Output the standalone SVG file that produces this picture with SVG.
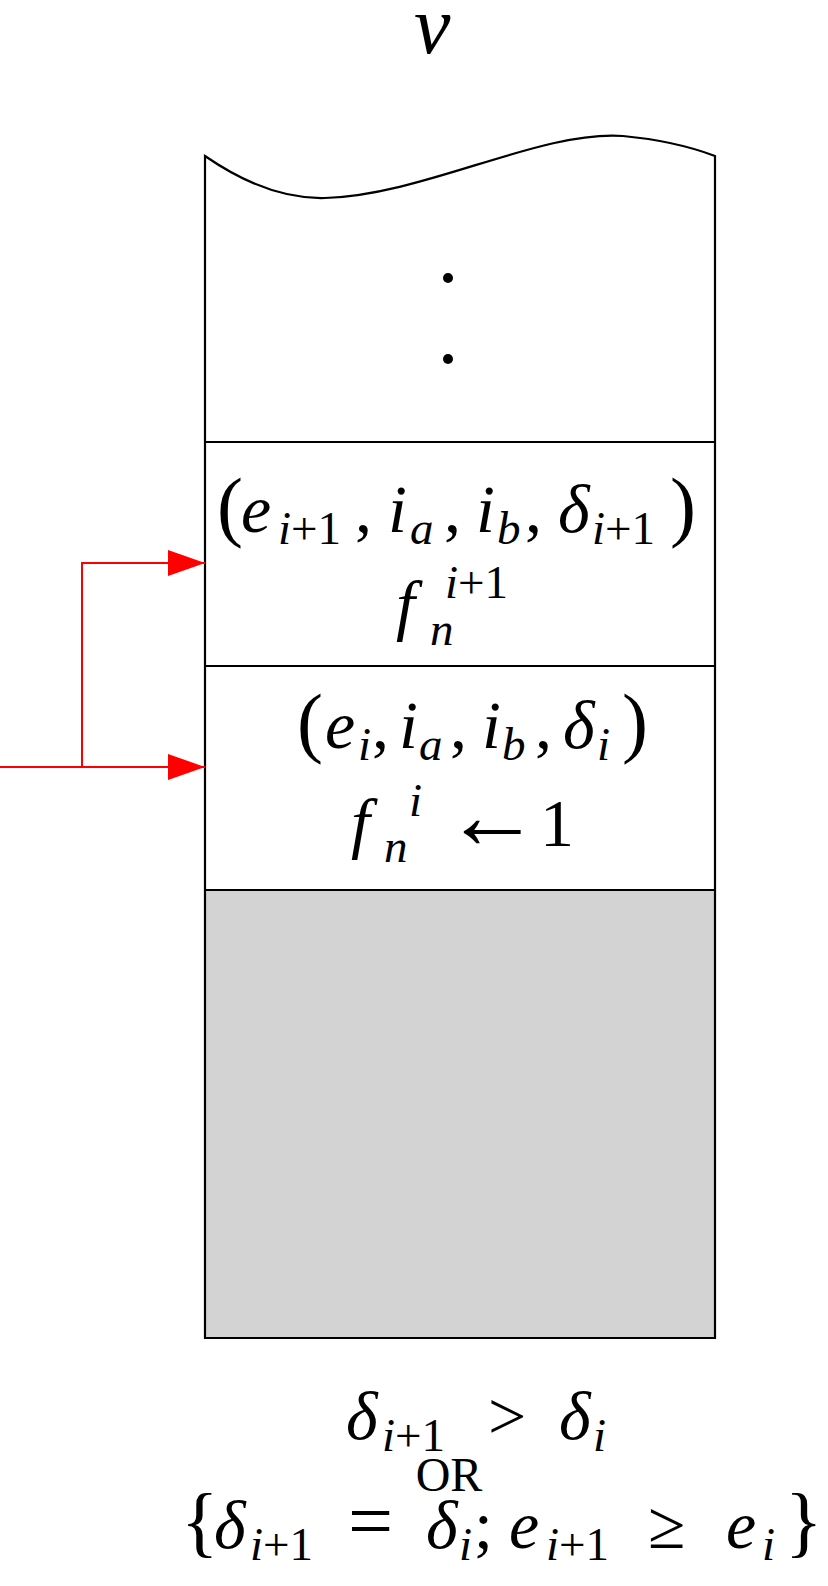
<svg xmlns="http://www.w3.org/2000/svg" width="828" height="1586" viewBox="0 0 828 1586">
<style>
text{font-family:"Liberation Serif","Times New Roman","DejaVu Serif","Noto Serif",serif;fill:#000}
.it{font-style:italic}
.box{fill:none;stroke:#000;stroke-width:2.2}
.div{stroke:#000;stroke-width:2.2}
.red{fill:none;stroke:#ff0000;stroke-width:2}
</style>
<defs>
<marker id="ah" markerUnits="userSpaceOnUse" markerWidth="37" markerHeight="26" refX="37" refY="13" orient="auto">
<path d="M0,0 L37,13 L0,26 Z" fill="#ff0000"/>
</marker>
</defs>
<g id="title">
<text class="it" x="414" y="53" font-size="82">v</text>
</g>
<g id="stack">
<rect x="205" y="890" width="510" height="448" fill="#d3d3d3"/>
<path class="box" d="M205,156 C247,185 288,199 325,198 C425,195 540,130 623,136 C655,139 686,145 715,156 L715,1338 L205,1338 Z"/>
<line class="div" x1="205" y1="442" x2="715" y2="442"/>
<line class="div" x1="205" y1="666" x2="715" y2="666"/>
<line class="div" x1="205" y1="890" x2="715" y2="890"/>
</g>
<g id="ellipsis">
<circle cx="448" cy="278" r="5"/>
<circle cx="448" cy="359" r="5"/>
</g>
<g id="entry-i1">
<text font-size="68"><tspan x="217" y="532" font-size="78">(</tspan><tspan class="it" x="241" y="532">e</tspan><tspan x="278" y="544" font-size="47"><tspan class="it">i</tspan>+1</tspan><tspan x="355" y="532">,</tspan><tspan class="it" x="388" y="532">i</tspan><tspan class="it" x="410" y="544" font-size="47">a</tspan><tspan x="444" y="532">,</tspan><tspan class="it" x="476" y="532">i</tspan><tspan class="it" x="497" y="544" font-size="47">b</tspan><tspan x="525" y="532">,</tspan><tspan class="it" x="558" y="532">δ</tspan><tspan x="592" y="544" font-size="47"><tspan class="it">i</tspan>+1</tspan><tspan x="670" y="532" font-size="78">)</tspan></text>
<text font-size="68"><tspan class="it" x="396" y="628">f</tspan><tspan x="445" y="598" font-size="47"><tspan class="it">i</tspan>+1</tspan><tspan class="it" x="430" y="645" font-size="47">n</tspan></text>
</g>
<g id="entry-i">
<text font-size="68"><tspan x="297" y="748" font-size="78">(</tspan><tspan class="it" x="325" y="748">e</tspan><tspan class="it" x="358" y="760" font-size="47">i</tspan><tspan x="372" y="748">,</tspan><tspan class="it" x="399" y="748">i</tspan><tspan class="it" x="419" y="760" font-size="47">a</tspan><tspan x="450" y="748">,</tspan><tspan class="it" x="482" y="748">i</tspan><tspan class="it" x="502" y="760" font-size="47">b</tspan><tspan x="535" y="748">,</tspan><tspan class="it" x="563" y="748">δ</tspan><tspan class="it" x="597" y="760" font-size="47">i</tspan><tspan x="622" y="748" font-size="78">)</tspan></text>
<text font-size="68"><tspan class="it" x="351" y="846">f</tspan><tspan class="it" x="409" y="816" font-size="47">i</tspan><tspan class="it" x="384" y="862" font-size="47">n</tspan><tspan x="444" y="848" font-size="96">←</tspan><tspan x="540" y="846">1</tspan></text>
</g>
<g id="connectors">
<path class="red" d="M0,767 H205" marker-end="url(#ah)"/>
<path class="red" d="M82,767 V563 H205" marker-end="url(#ah)"/>
</g>
<g id="condition">
<text font-size="68"><tspan class="it" x="346" y="1439">δ</tspan><tspan x="382" y="1451" font-size="47"><tspan class="it">i</tspan>+1</tspan><tspan x="488" y="1439">&gt;</tspan><tspan class="it" x="559" y="1439">δ</tspan><tspan class="it" x="593" y="1451" font-size="47">i</tspan></text>
<text x="449" y="1491" font-size="48" text-anchor="middle">OR</text>
<text font-size="68"><tspan x="181" y="1548" font-size="78">{</tspan><tspan class="it" x="214" y="1548">δ</tspan><tspan x="250" y="1560" font-size="47"><tspan class="it">i</tspan>+1</tspan><tspan x="348" y="1548" font-size="80">=</tspan><tspan class="it" x="426" y="1548">δ</tspan><tspan class="it" x="459" y="1560" font-size="47">i</tspan><tspan x="474" y="1548">;</tspan><tspan class="it" x="509" y="1548">e</tspan><tspan x="546" y="1560" font-size="47"><tspan class="it">i</tspan>+1</tspan><tspan x="648" y="1548">≥</tspan><tspan class="it" x="726" y="1548">e</tspan><tspan class="it" x="762" y="1560" font-size="47">i</tspan><tspan x="785" y="1548" font-size="78">}</tspan></text>
</g>
</svg>
